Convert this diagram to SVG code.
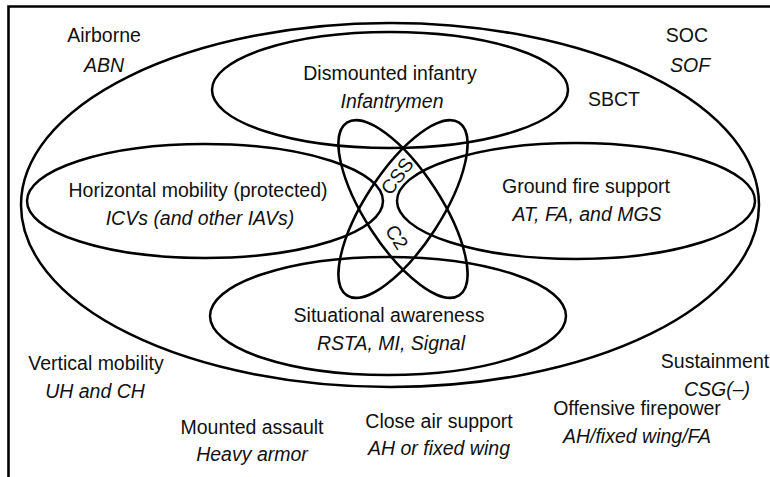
<svg xmlns="http://www.w3.org/2000/svg" width="770" height="477" viewBox="0 0 770 477">
<style>
.e{fill:none;stroke:#000;stroke-width:2.5}
.t{font-family:"Liberation Sans",Arial,sans-serif;font-size:19.5px;fill:#111;text-anchor:middle}
.i{font-style:italic}
</style>
<rect width="770" height="477" fill="#fff"/>
<path d="M8.5,477 V6.5 H770" fill="none" stroke="#000" stroke-width="2.6"/>
<g id="outer">
<ellipse class="e" cx="390" cy="205" rx="369" ry="182"/>
</g>
<g id="dismounted">
<ellipse class="e" cx="390" cy="90" rx="178" ry="58"/>
<text class="t" x="390" y="80">Dismounted infantry</text>
<text class="t i" x="392" y="108">Infantrymen</text>
</g>
<g id="horizontal">
<ellipse class="e" cx="205" cy="201" rx="178" ry="57"/>
<text class="t" x="198" y="197">Horizontal mobility (protected)</text>
<text class="t i" x="200" y="225">ICVs (and other IAVs)</text>
</g>
<g id="groundfire">
<ellipse class="e" cx="576" cy="201" rx="179" ry="58"/>
<text class="t" x="586" y="193">Ground fire support</text>
<text class="t i" x="587" y="221">AT, FA, and MGS</text>
</g>
<g id="situational">
<ellipse class="e" cx="388" cy="316" rx="178" ry="59"/>
<text class="t" x="389" y="322">Situational awareness</text>
<text class="t i" x="391" y="350">RSTA, MI, Signal</text>
</g>
<g id="css">
<ellipse class="e" cx="403" cy="209" rx="103" ry="38" transform="rotate(-57 403 209)"/>
<text class="t" transform="translate(397 176) rotate(-53)" dominant-baseline="central">CSS</text>
</g>
<g id="c2">
<ellipse class="e" cx="403" cy="209" rx="103" ry="38" transform="rotate(57 403 209)"/>
<text class="t" transform="translate(397 237) rotate(58)" dominant-baseline="central">C2</text>
</g>
<g id="labels">
<text class="t" x="104" y="42">Airborne</text>
<text class="t i" x="104" y="72">ABN</text>
<text class="t" x="687" y="42">SOC</text>
<text class="t i" x="690" y="72">SOF</text>
<text class="t" x="614" y="106">SBCT</text>
<text class="t" x="96" y="370">Vertical mobility</text>
<text class="t i" x="95" y="398">UH and CH</text>
<text class="t" x="715" y="368">Sustainment</text>
<text class="t i" x="717" y="396">CSG(–)</text>
<text class="t" x="252" y="434">Mounted assault</text>
<text class="t i" x="252" y="461">Heavy armor</text>
<text class="t" x="439" y="428">Close air support</text>
<text class="t i" x="439" y="455">AH or fixed wing</text>
<text class="t" x="637" y="415">Offensive firepower</text>
<text class="t i" x="637" y="443">AH/fixed wing/FA</text>
</g>
</svg>
